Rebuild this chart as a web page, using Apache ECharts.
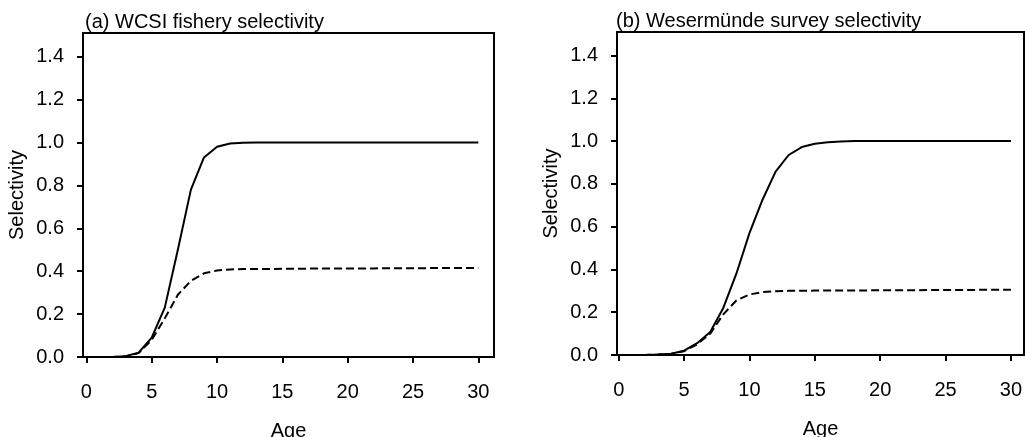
<!DOCTYPE html>
<html>
<head>
<meta charset="utf-8">
<script src="https://cdn.jsdelivr.net/npm/echarts@6/dist/echarts.min.js"></script>
<style>
  html, body { margin: 0; padding: 0; background: #fff; }
  #chart { width: 1025px; height: 437px; }
</style>
</head>
<body>
<div id="chart"></div>
<script>
// ages 0..30
var ages = [0,1,2,3,4,5,6,7,8,9,10,11,12,13,14,15,16,17,18,19,20,21,22,23,24,25,26,27,28,29,30];

// (a) WCSI fishery selectivity
var wcsiSolid  = [0,0,0,0.004,0.02,0.09,0.23,0.5,0.78,0.93,0.98,0.995,0.999,1,1,1,1,1,1,1,1,1,1,1,1,1,1,1,1,1,1];
var wcsiDashed = [0,0,0,0.003,0.018,0.08,0.18,0.29,0.355,0.39,0.403,0.408,0.41,0.41,0.41,0.411,0.411,0.412,0.412,0.412,0.413,0.413,0.413,0.414,0.414,0.414,0.414,0.415,0.415,0.415,0.415];

// (b) Wesermünde survey selectivity
var weserSolid  = [0,0,0,0.002,0.006,0.02,0.055,0.108,0.22,0.38,0.57,0.726,0.857,0.935,0.972,0.988,0.995,0.998,1,1,1,1,1,1,1,1,1,1,1,1,1];
var weserDashed = [0,0,0,0.002,0.005,0.018,0.05,0.1,0.19,0.255,0.283,0.294,0.298,0.3,0.3,0.301,0.301,0.302,0.302,0.302,0.303,0.303,0.303,0.303,0.304,0.304,0.304,0.304,0.305,0.305,0.305];

var xTicks = [0,5,10,15,20,25,30];
var yTicks = [0,0.2,0.4,0.6,0.8,1.0,1.2,1.4];
var titles = ['(a) WCSI fishery selectivity', '(b) Wesermünde survey selectivity'];

var chart = echarts.init(document.getElementById('chart'));
var font = '"Liberation Sans", Arial, sans-serif';

function pairs(ys) {
  return ages.map(function (a, i) { return [a, ys[i]]; });
}

function xAx(idx, min, max) {
  return {
    gridIndex: idx, type: 'value', min: min, max: max,
    name: 'Age', nameLocation: 'middle', nameGap: 64,
    nameTextStyle: { color: '#000', fontSize: 20, fontFamily: font },
    axisLine: { show: true, onZero: false, lineStyle: { color: '#000', width: 2 } },
    axisTick: { show: true, length: 6, customValues: xTicks, lineStyle: { color: '#000', width: 2 } },
    axisLabel: { customValues: xTicks, color: '#000', fontSize: 20, fontFamily: font, margin: 25 },
    splitLine: { show: false }
  };
}

function yAx(idx) {
  return {
    gridIndex: idx, type: 'value', min: 0, max: 1.51,
    name: 'Selectivity', nameLocation: 'middle', nameGap: 56, nameRotate: 90,
    nameTextStyle: { color: '#000', fontSize: 20, fontFamily: font },
    axisLine: { show: true, onZero: false, lineStyle: { color: '#000', width: 2 } },
    axisTick: { show: true, length: 6, customValues: yTicks, lineStyle: { color: '#000', width: 2 } },
    axisLabel: {
      customValues: yTicks, color: '#000', fontSize: 20, fontFamily: font, margin: 19,
      formatter: function (v) { return v.toFixed(1); }
    },
    splitLine: { show: false }
  };
}

function line(idx, ys, dashed) {
  return {
    type: 'line', xAxisIndex: idx, yAxisIndex: idx,
    data: pairs(ys), showSymbol: false, smooth: false, silent: true,
    lineStyle: { color: '#000', width: 2, type: dashed ? [8, 4] : 'solid' }
  };
}

chart.setOption({
  animation: false,
  backgroundColor: '#fff',
  title: [
    { text: titles[0], left: 85, top: 12, textStyle: { color: '#000', fontSize: 20, fontWeight: 'normal', fontFamily: font }, padding: 0 },
    { text: titles[1], left: 616, top: 11, textStyle: { color: '#000', fontSize: 20, fontWeight: 'normal', fontFamily: font }, padding: 0 }
  ],
  grid: [
    { left: 83, right: 531, top: 33, bottom: 80, show: true, borderColor: '#000', borderWidth: 2, outerBoundsMode: 'none' },
    { left: 617, right: 1, top: 32, bottom: 82, show: true, borderColor: '#000', borderWidth: 2, outerBoundsMode: 'none' }
  ],
  xAxis: [xAx(0, -0.26, 31.2), xAx(1, -0.13, 31.0)],
  yAxis: [yAx(0), yAx(1)],
  series: [
    line(0, wcsiSolid, false),
    line(0, wcsiDashed, true),
    line(1, weserSolid, false),
    line(1, weserDashed, true)
  ]
});
</script>
</body>
</html>
